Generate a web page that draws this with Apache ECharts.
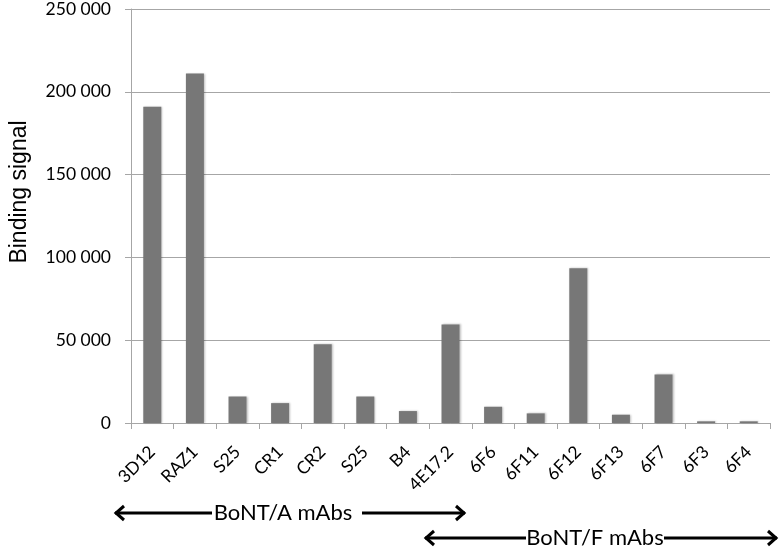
<!DOCTYPE html>
<html>
<head>
<meta charset="utf-8">
<script src="https://cdn.jsdelivr.net/npm/echarts@6/dist/echarts.min.js"></script>
<style>html,body{margin:0;padding:0;background:#fff}#c{width:784px;height:554px}</style>
</head>
<body>
<div id="c"></div>
<script>
var categories = ['3D12','RAZ1','S25','CR1','CR2','S25','B4','4E17.2','6F6','6F11','6F12','6F13','6F7','6F3','6F4'];
var bindingSignal = [191000, 211000, 16000, 12000, 47500, 16000, 7200, 59500, 9800, 5800, 93500, 5000, 29300, 1000, 1000];
var yTicks = [0, 50000, 100000, 150000, 200000, 250000];
var groupLabels = ['BoNT/A mAbs', 'BoNT/F mAbs'];

var FONT = 'Lato, "Open Sans", sans-serif';
var chart = echarts.init(document.getElementById('c'));

function fmt(v){ return String(v).replace(/\B(?=(\d{3})+(?!\d))/g, ' '); }

function arrow(x1, x2, y, tx1, tx2){
  var st = {stroke:'#000', lineWidth:3, fill:null};
  var h = 9, w = 7;
  return [
    {type:'line', shape:{x1:x1, y1:y, x2:tx1, y2:y}, style:st},
    {type:'line', shape:{x1:tx2, y1:y, x2:x2, y2:y}, style:st},
    {type:'polyline', shape:{points:[[x1+h,y-w],[x1+1,y],[x1+h,y+w]]}, style:st},
    {type:'polyline', shape:{points:[[x2-h,y-w],[x2-1,y],[x2-h,y+w]]}, style:st}
  ];
}

var graphics = [].concat(
  arrow(115, 465, 513, 212, 362),
  arrow(425, 777, 538, 526, 664),
  [
    {type:'text', x:283, y:513, style:{text:groupLabels[0], font:'22px '+FONT, fill:'#000', textAlign:'center', textVerticalAlign:'middle'}},
    {type:'text', x:595, y:538, style:{text:groupLabels[1], font:'22px '+FONT, fill:'#000', textAlign:'center', textVerticalAlign:'middle'}}
  ]
);

chart.setOption({
  animation:false,
  grid:{left:123, right:14, top:8, bottom:131, containLabel:false},
  xAxis:{
    type:'category',
    data:categories,
    axisLine:{show:true, lineStyle:{color:'#a6a6a6', width:1}},
    axisTick:{show:true, length:6, lineStyle:{color:'#a6a6a6'}},
    axisLabel:{rotate:45, fontSize:17.5, color:'#000', fontFamily:FONT, margin:26, interval:0}
  },
  yAxis:{
    type:'value',
    min:yTicks[0], max:yTicks[yTicks.length-1], interval:50000,
    name:'Binding signal',
    nameLocation:'middle',
    nameGap:100,
    nameTextStyle:{fontSize:23, color:'#000', fontFamily:'"Liberation Sans", Arial, sans-serif', padding:[0,0,0,48]},
    axisLine:{show:true, lineStyle:{color:'#a6a6a6'}},
    axisTick:{show:true, length:6, lineStyle:{color:'#a6a6a6'}},
    splitLine:{show:true, lineStyle:{color:'#a6a6a6', width:1}},
    axisLabel:{fontSize:17.5, color:'#000', fontFamily:FONT, margin:20, formatter:fmt}
  },
  series:[{
    type:'bar',
    data:bindingSignal,
    barWidth:18,
    itemStyle:{color:'#777777', shadowColor:'rgba(0,0,0,0.25)', shadowBlur:2, shadowOffsetX:1}
  }],
  graphic:graphics
});
</script>
</body>
</html>
